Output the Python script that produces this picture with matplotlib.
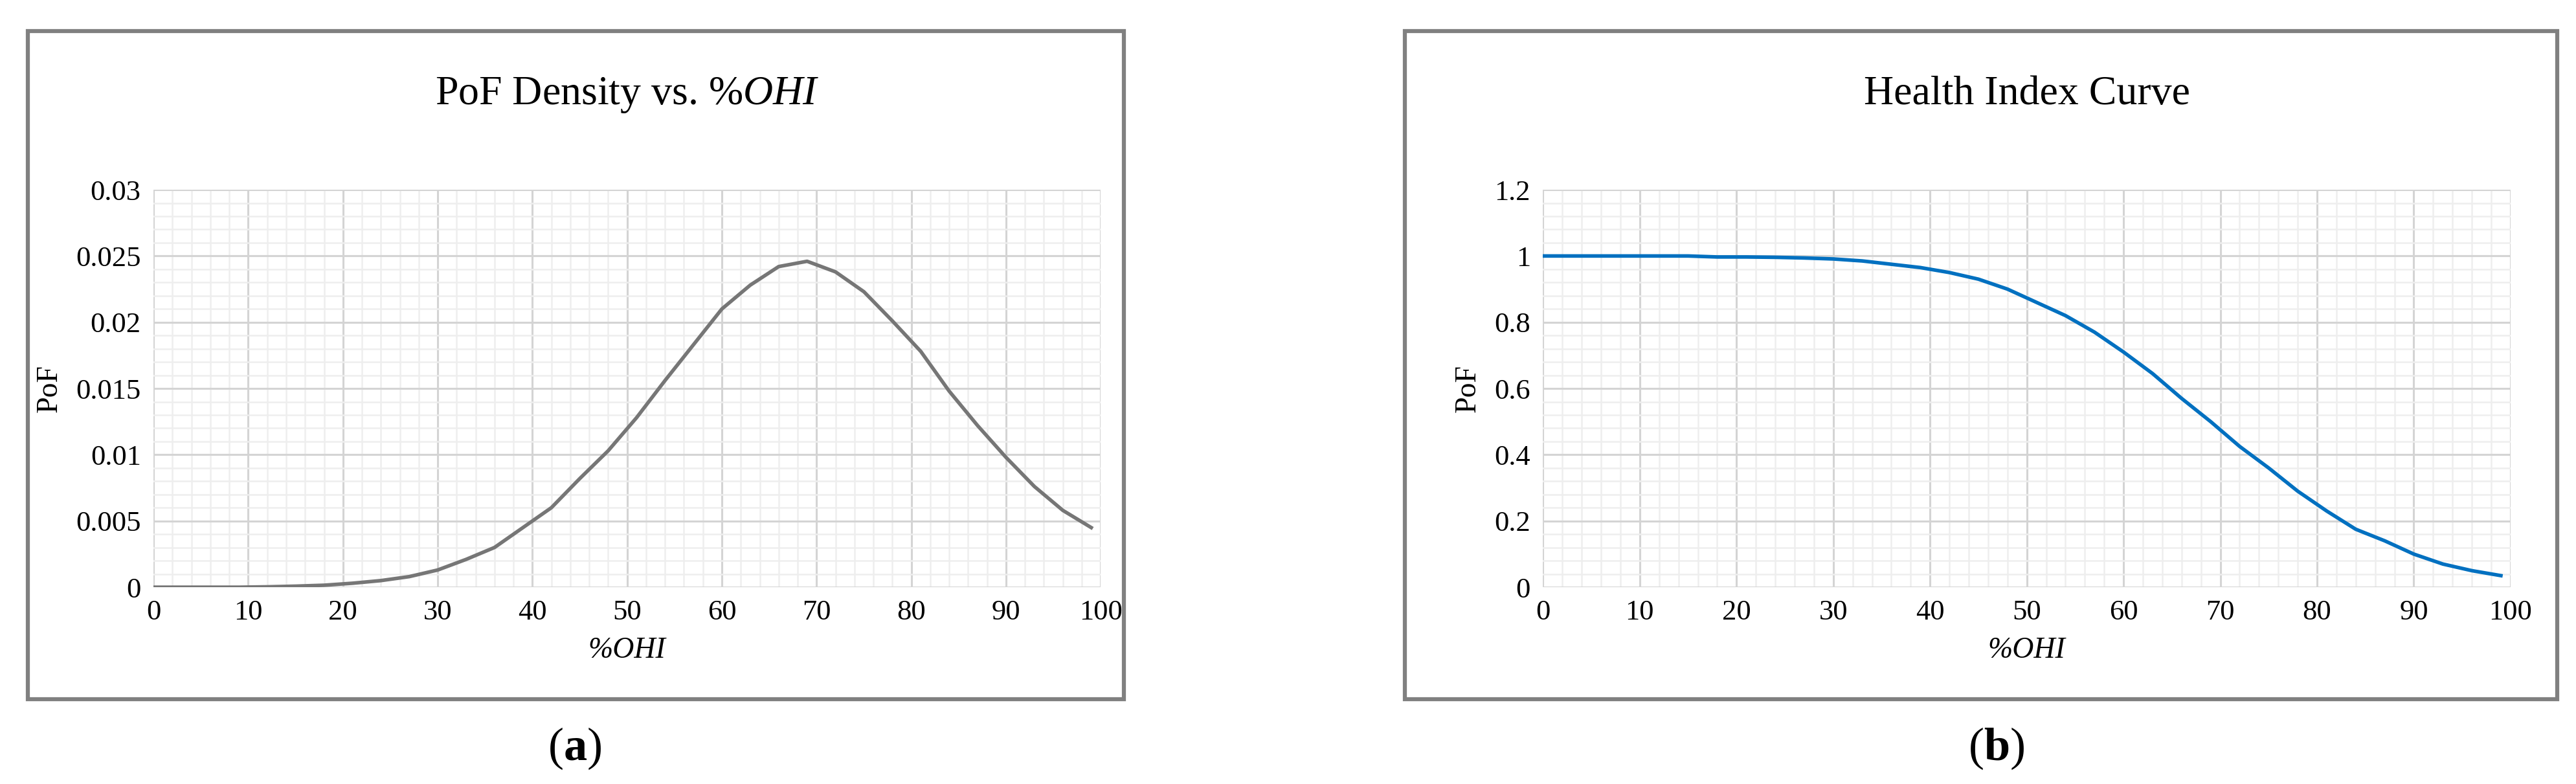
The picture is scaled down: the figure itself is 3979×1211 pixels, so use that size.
import matplotlib

matplotlib.use("Agg")
import matplotlib.pyplot as plt
from matplotlib.patches import Rectangle
from matplotlib.ticker import MultipleLocator

plt.rcParams["font.family"] = ["Liberation Serif", "DejaVu Serif"]
plt.rcParams["mathtext.fontset"] = "custom"
plt.rcParams["mathtext.rm"] = "Liberation Serif"
plt.rcParams["mathtext.it"] = "Liberation Serif:italic"
plt.rcParams["mathtext.bf"] = "Liberation Serif:bold"

# %OHI sample points (read every 3 units)
ohi = [0, 3, 6, 9, 12, 15, 18, 21, 24, 27, 30, 33, 36, 39, 42, 45, 48, 51, 54,
       57, 60, 63, 66, 69, 72, 75, 78, 81, 84, 87, 90, 93, 96, 99]
pof_density = [0, 0, 0, 0, 0.00003, 0.00008, 0.00015, 0.0003, 0.0005, 0.0008,
               0.0013, 0.0021, 0.003, 0.0045, 0.006, 0.0082, 0.0103, 0.0128,
               0.0156, 0.0183, 0.021, 0.0228, 0.0242, 0.0246, 0.0238, 0.0223,
               0.0201, 0.0178, 0.0148, 0.0122, 0.0098, 0.0076, 0.0058, 0.0045]
health_index = [1, 1, 1, 1, 1, 1, 0.997, 0.997, 0.996, 0.994, 0.991, 0.985,
                0.975, 0.965, 0.95, 0.93, 0.9, 0.86, 0.82, 0.77, 0.71, 0.645,
                0.57, 0.5, 0.425, 0.36, 0.29, 0.23, 0.175, 0.14, 0.1, 0.07,
                0.05, 0.035]

W, H = 3979, 1211
fig = plt.figure(figsize=(W / 100, H / 100), dpi=100)


def panel(rect, box, y, color, title, ymax, ymaj, ymin, tag, tagx):
    fig.patches.append(Rectangle((box[0], box[1]), box[2], box[3],
                                 transform=fig.transFigure, fill=False,
                                 edgecolor="#808080", lw=4.5))
    ax = fig.add_axes(rect)
    ax.plot(ohi, y, color=color, lw=4, zorder=3)
    ax.set_xlim(0, 100)
    ax.set_ylim(0, ymax)
    ax.xaxis.set_major_locator(MultipleLocator(10))
    ax.xaxis.set_minor_locator(MultipleLocator(2))
    ax.yaxis.set_major_locator(MultipleLocator(ymaj))
    ax.yaxis.set_minor_locator(MultipleLocator(ymin))
    ax.grid(True, which="major", color="#d4d4d4", lw=2.2)
    ax.grid(True, which="minor", color="#eeeeee", lw=1.8)
    ax.set_axisbelow(True)
    for s in ax.spines.values():
        s.set_visible(False)
    ax.tick_params(which="both", length=0, labelsize=32, pad=14)
    ax.yaxis.set_major_formatter(plt.FuncFormatter(lambda v, p: f"{v:g}"))
    ax.set_title(title, fontsize=46, pad=95)
    ax.set_xlabel("%OHI", fontstyle="italic", fontsize=33, labelpad=12)
    ax.set_ylabel("PoF", fontsize=33, labelpad=14)
    fig.text(tagx, 0.045, tag, fontsize=52, ha="center", va="center")
    return ax


panel([0.0596, 0.251, 0.3677, 0.507], [0.0108, 0.108, 0.4255, 0.852],
      pof_density, "#767676", r"PoF Density vs. %$\mathit{OHI}$",
      0.03, 0.005, 0.001, r"($\mathbf{a}$)", 0.223)
panel([0.599, 0.251, 0.3756, 0.507], [0.5454, 0.108, 0.4473, 0.852],
      health_index, "#0070c0", "Health Index Curve",
      1.2, 0.2, 0.04, r"($\mathbf{b}$)", 0.775)

fig.savefig("out.png", dpi=100)
